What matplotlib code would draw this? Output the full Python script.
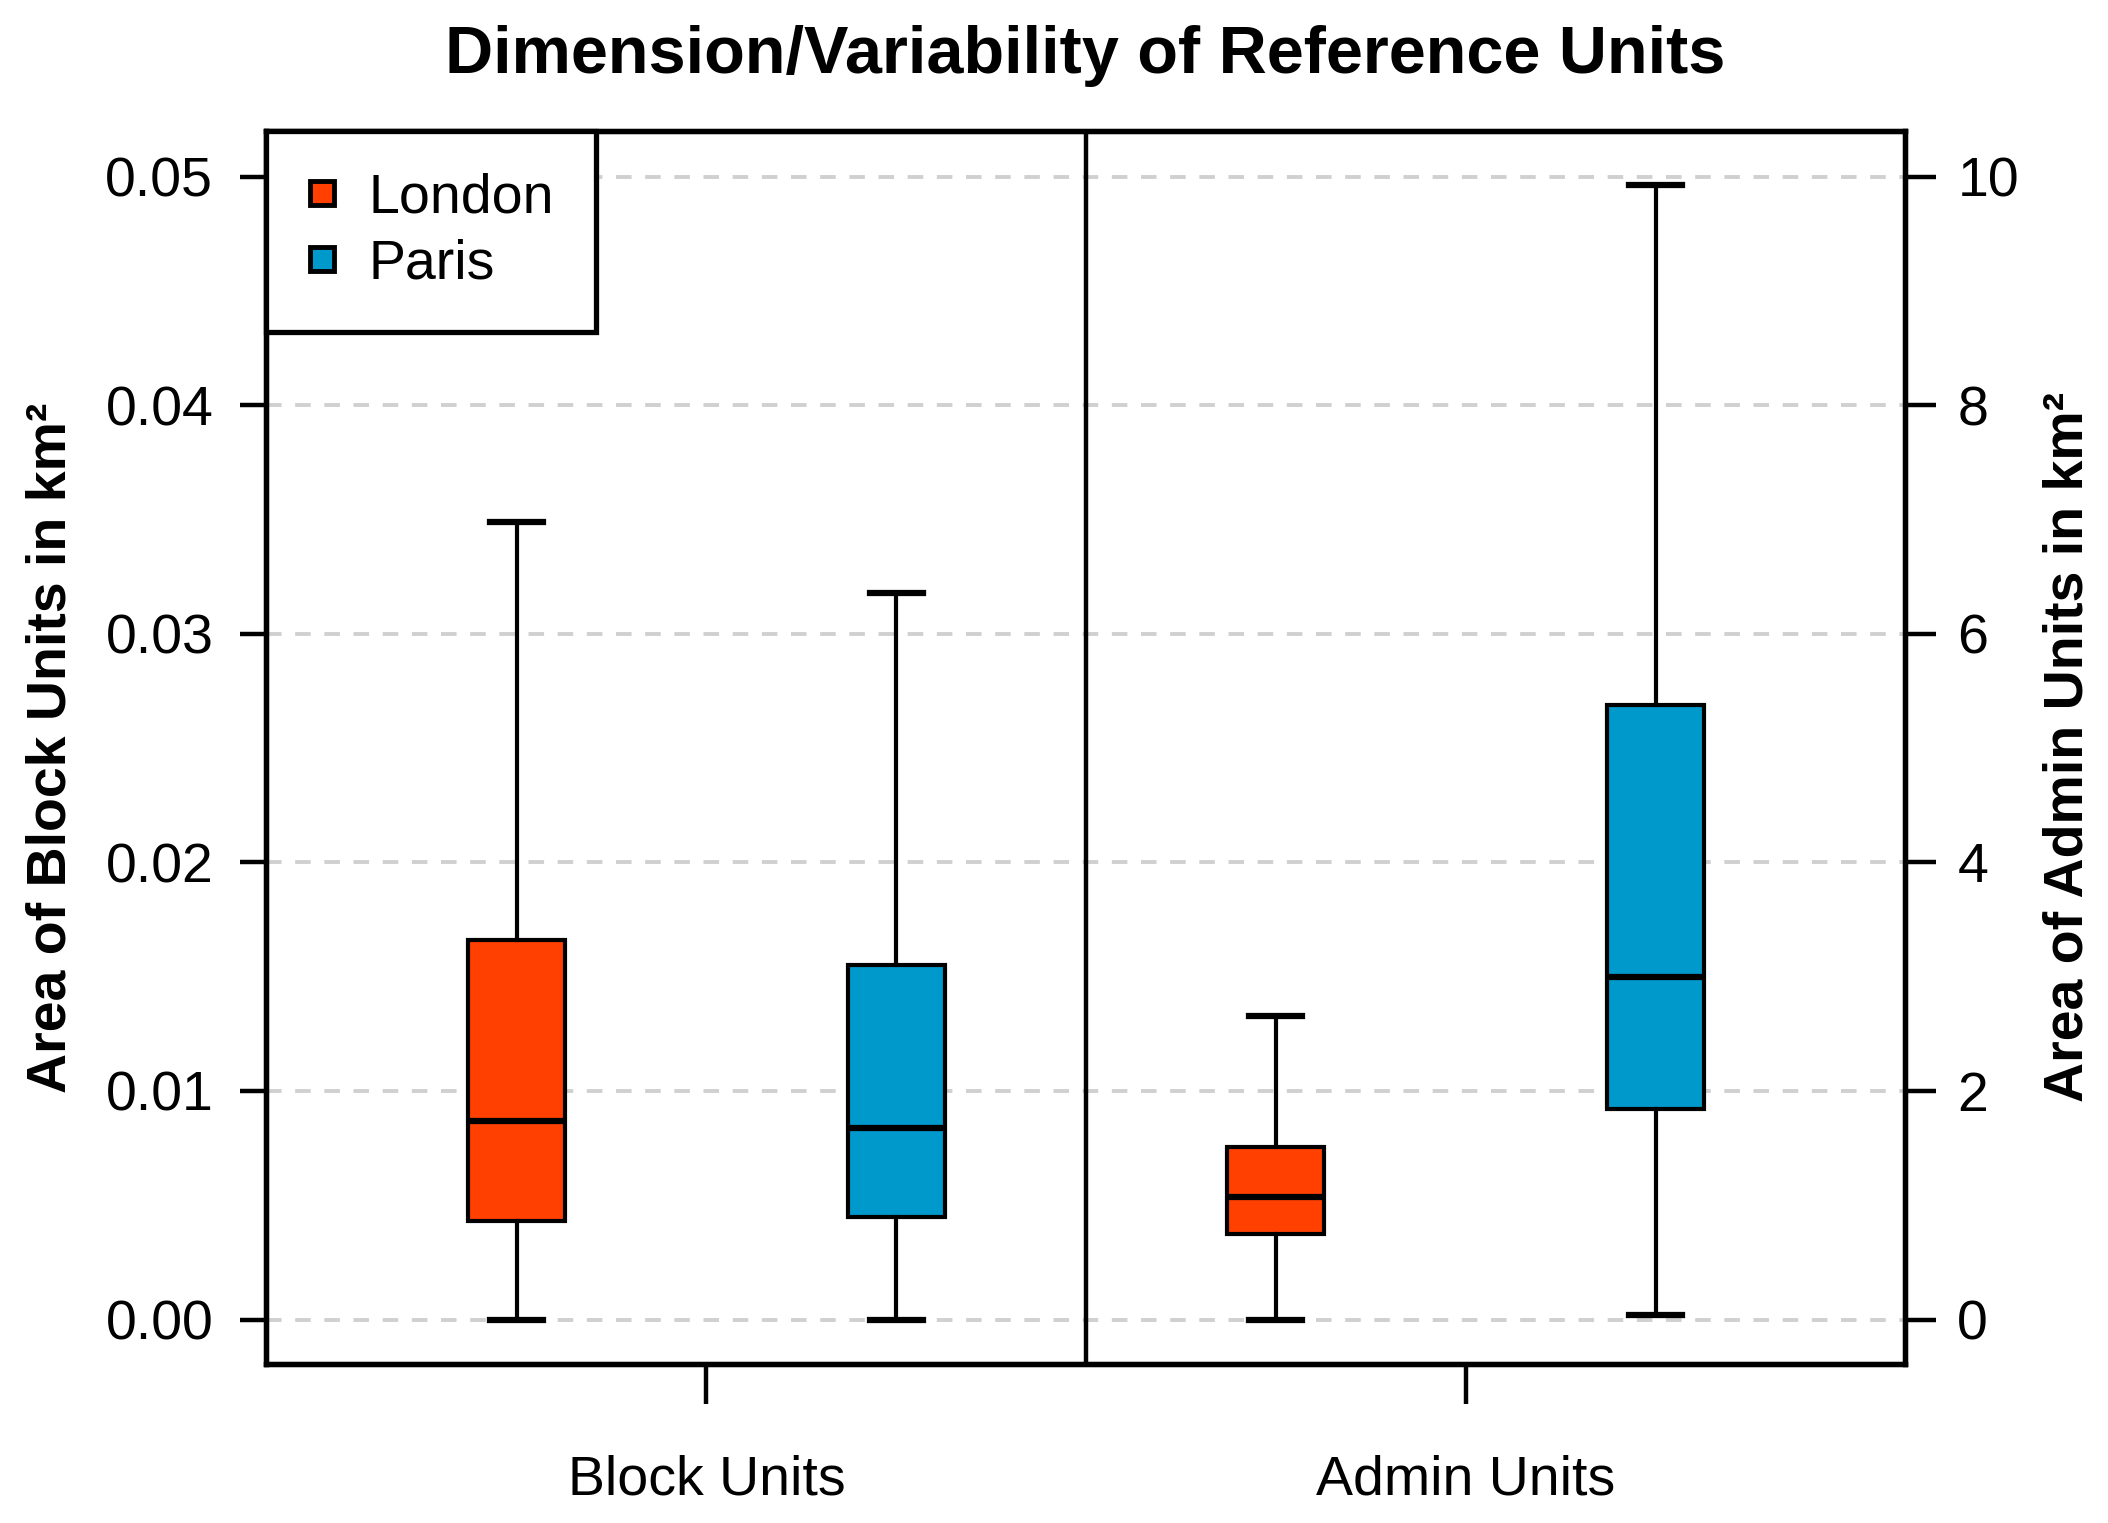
import matplotlib
matplotlib.use("Agg")
import matplotlib.pyplot as plt
from matplotlib.lines import Line2D

plt.rcParams['font.family'] = ['Liberation Sans', 'DejaVu Sans']

# ---- data ----
cities = ["London", "Paris"]
colors = ["#FF4000", "#0099CC"]
groups = ["Block Units", "Admin Units"]

# Block units (km^2): whisker low, Q1, median, Q3, whisker high
block_london = [0.0, 0.0043, 0.0087, 0.0166, 0.0349]
block_paris = [0.0, 0.0045, 0.0084, 0.0155, 0.0318]
# Admin units (km^2)
admin_london = [0.0, 0.75, 1.07, 1.51, 2.66]
admin_paris = [0.04, 1.84, 3.00, 5.38, 9.93]

left_ticks = [0.00, 0.01, 0.02, 0.03, 0.04, 0.05]
left_labels = ["0.00", "0.01", "0.02", "0.03", "0.04", "0.05"]
right_ticks = [0, 2, 4, 6, 8, 10]
right_labels = ["0", "2", "4", "6", "8", "10"]


def stats(v, label):
    return dict(whislo=v[0], q1=v[1], med=v[2], q3=v[3], whishi=v[4],
                fliers=[], label=label)


fig = plt.figure(figsize=(21.08, 15.23), dpi=100)
ax_left, ax_right = 0.1262, 0.9035
ax = fig.add_axes([ax_left, 0.1045, ax_right - ax_left, 0.914 - 0.1045])
ax2 = ax.twinx()

ylim_l = (-0.00194, 0.052)
ax.set_ylim(*ylim_l)
ax2.set_ylim(ylim_l[0] * 200, ylim_l[1] * 200)
ax.set_xlim(0.34, 4.656)
ax2.set_xlim(0.34, 4.656)

# gridlines
for t in left_ticks:
    ax.axhline(t, color="#D0D0D0", lw=2.8, ls=(0, (4, 3.5)), zorder=0)

lw = 3.0
def draw(axis, vals, pos, col):
    st = [stats(vals, "")]
    axis.bxp(st, positions=[pos], widths=0.255, patch_artist=True,
             showfliers=False, showcaps=True,
             boxprops=dict(facecolor=col, edgecolor="black", linewidth=lw),
             medianprops=dict(color="black", linewidth=4.5),
             whiskerprops=dict(color="black", linewidth=lw, linestyle="-"),
             capprops=dict(color="black", linewidth=4.5),
             capwidths=0.14, manage_ticks=False)

draw(ax, block_london, 1, colors[0])
draw(ax, block_paris, 2, colors[1])
draw(ax2, admin_london, 3, colors[0])
draw(ax2, admin_paris, 4, colors[1])

ax.axvline(2.5, color="black", lw=3.2, zorder=5)

for a in (ax, ax2):
    for s in a.spines.values():
        s.set_linewidth(3.8)
        s.set_color("black")

ax.set_yticks(left_ticks)
ax.set_yticklabels(left_labels)
ax.tick_params(axis="y", direction="out", length=19, width=3.2, labelsize=40, pad=19)
ax2.set_yticks(right_ticks)
ax2.set_yticklabels(right_labels)
ax2.tick_params(axis="y", direction="out", length=22, width=3.2, labelsize=40, pad=16)

ax.set_xticks([1.5, 3.5])
ax.set_xticklabels(groups)
ax.tick_params(axis="x", direction="out", length=29, width=3.2, labelsize=40, pad=36)
ax2.tick_params(axis="x", which="both", bottom=False, top=False, labelbottom=False)

ax.set_ylabel("Area of Block Units in km²", fontsize=40, fontweight="bold", labelpad=20)
ax2.set_ylabel("Area of Admin Units in km²", fontsize=40, fontweight="bold", labelpad=17)

fig.text((ax_left + ax_right) / 2, 0.9630, "Dimension/Variability of Reference Units",
         ha="center", va="center", fontsize=48, fontweight="bold")

handles = [Line2D([], [], marker="s", ls="none", markersize=17,
                  markerfacecolor=c, markeredgecolor="black", markeredgewidth=3.5)
           for c in colors]
leg = ax2.legend(handles, cities, loc="upper left", bbox_to_anchor=(0, 1),
                 borderaxespad=0, fontsize=40, frameon=True, fancybox=False,
                 handletextpad=0.6, borderpad=0.75, labelspacing=0.25,
                 handlelength=0.5)
leg.get_frame().set_edgecolor("black")
leg.get_frame().set_linewidth(3.8)
leg.get_frame().set_alpha(1)

fig.savefig("out.png", dpi=100, facecolor="white")
